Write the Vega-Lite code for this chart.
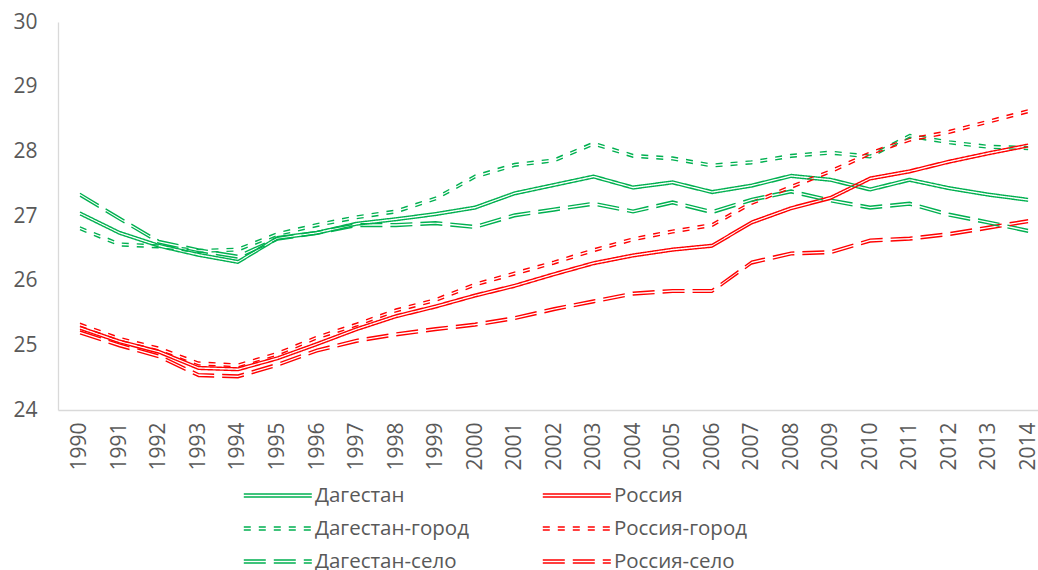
{
  "$schema": "https://vega.github.io/schema/vega-lite/v6.json",
  "width": 980,
  "height": 388,
  "autosize": {"type": "none"},
  "padding": {"left": 58, "top": 22, "right": 0, "bottom": 160},
  "background": "white",
  "config": {"view": {"stroke": null}, "font": "Open Sans"},
  "data": {"values": [
    {"year":1990,"series":"Дагестан","value":27.04},{"year":1991,"series":"Дагестан","value":26.74},{"year":1992,"series":"Дагестан","value":26.54},{"year":1993,"series":"Дагестан","value":26.4},{"year":1994,"series":"Дагестан","value":26.29},{"year":1995,"series":"Дагестан","value":26.66},{"year":1996,"series":"Дагестан","value":26.74},{"year":1997,"series":"Дагестан","value":26.88},{"year":1998,"series":"Дагестан","value":26.95},{"year":1999,"series":"Дагестан","value":27.03},{"year":2000,"series":"Дагестан","value":27.13},{"year":2001,"series":"Дагестан","value":27.35},{"year":2002,"series":"Дагестан","value":27.48},{"year":2003,"series":"Дагестан","value":27.61},{"year":2004,"series":"Дагестан","value":27.44},{"year":2005,"series":"Дагестан","value":27.52},{"year":2006,"series":"Дагестан","value":27.37},{"year":2007,"series":"Дагестан","value":27.47},{"year":2008,"series":"Дагестан","value":27.62},{"year":2009,"series":"Дагестан","value":27.56},{"year":2010,"series":"Дагестан","value":27.41},{"year":2011,"series":"Дагестан","value":27.56},{"year":2012,"series":"Дагестан","value":27.43},{"year":2013,"series":"Дагестан","value":27.33},{"year":2014,"series":"Дагестан","value":27.25},
    {"year":1990,"series":"Дагестан-город","value":26.81},{"year":1991,"series":"Дагестан-город","value":26.56},{"year":1992,"series":"Дагестан-город","value":26.53},{"year":1993,"series":"Дагестан-город","value":26.46},{"year":1994,"series":"Дагестан-город","value":26.48},{"year":1995,"series":"Дагестан-город","value":26.72},{"year":1996,"series":"Дагестан-город","value":26.86},{"year":1997,"series":"Дагестан-город","value":26.98},{"year":1998,"series":"Дагестан-город","value":27.07},{"year":1999,"series":"Дагестан-город","value":27.27},{"year":2000,"series":"Дагестан-город","value":27.61},{"year":2001,"series":"Дагестан-город","value":27.79},{"year":2002,"series":"Дагестан-город","value":27.86},{"year":2003,"series":"Дагестан-город","value":28.12},{"year":2004,"series":"Дагестан-город","value":27.93},{"year":2005,"series":"Дагестан-город","value":27.89},{"year":2006,"series":"Дагестан-город","value":27.78},{"year":2007,"series":"Дагестан-город","value":27.83},{"year":2008,"series":"Дагестан-город","value":27.93},{"year":2009,"series":"Дагестан-город","value":27.98},{"year":2010,"series":"Дагестан-город","value":27.92},{"year":2011,"series":"Дагестан-город","value":28.24},{"year":2012,"series":"Дагестан-город","value":28.14},{"year":2013,"series":"Дагестан-город","value":28.07},{"year":2014,"series":"Дагестан-город","value":28.05},
    {"year":1990,"series":"Дагестан-село","value":27.33},{"year":1991,"series":"Дагестан-село","value":26.96},{"year":1992,"series":"Дагестан-село","value":26.6},{"year":1993,"series":"Дагестан-село","value":26.47},{"year":1994,"series":"Дагестан-село","value":26.37},{"year":1995,"series":"Дагестан-село","value":26.65},{"year":1996,"series":"Дагестан-село","value":26.74},{"year":1997,"series":"Дагестан-село","value":26.86},{"year":1998,"series":"Дагестан-село","value":26.86},{"year":1999,"series":"Дагестан-село","value":26.89},{"year":2000,"series":"Дагестан-село","value":26.83},{"year":2001,"series":"Дагестан-село","value":27.01},{"year":2002,"series":"Дагестан-село","value":27.1},{"year":2003,"series":"Дагестан-село","value":27.19},{"year":2004,"series":"Дагестан-село","value":27.07},{"year":2005,"series":"Дагестан-село","value":27.21},{"year":2006,"series":"Дагестан-село","value":27.06},{"year":2007,"series":"Дагестан-село","value":27.25},{"year":2008,"series":"Дагестан-село","value":27.38},{"year":2009,"series":"Дагестан-село","value":27.24},{"year":2010,"series":"Дагестан-село","value":27.13},{"year":2011,"series":"Дагестан-село","value":27.19},{"year":2012,"series":"Дагестан-село","value":27.02},{"year":2013,"series":"Дагестан-село","value":26.9},{"year":2014,"series":"Дагестан-село","value":26.77},
    {"year":1990,"series":"Россия","value":25.27},{"year":1991,"series":"Россия","value":25.06},{"year":1992,"series":"Россия","value":24.9},{"year":1993,"series":"Россия","value":24.65},{"year":1994,"series":"Россия","value":24.63},{"year":1995,"series":"Россия","value":24.8},{"year":1996,"series":"Россия","value":25.02},{"year":1997,"series":"Россия","value":25.25},{"year":1998,"series":"Россия","value":25.45},{"year":1999,"series":"Россия","value":25.6},{"year":2000,"series":"Россия","value":25.77},{"year":2001,"series":"Россия","value":25.92},{"year":2002,"series":"Россия","value":26.1},{"year":2003,"series":"Россия","value":26.27},{"year":2004,"series":"Россия","value":26.39},{"year":2005,"series":"Россия","value":26.48},{"year":2006,"series":"Россия","value":26.54},{"year":2007,"series":"Россия","value":26.9},{"year":2008,"series":"Россия","value":27.12},{"year":2009,"series":"Россия","value":27.28},{"year":2010,"series":"Россия","value":27.58},{"year":2011,"series":"Россия","value":27.69},{"year":2012,"series":"Россия","value":27.84},{"year":2013,"series":"Россия","value":27.97},{"year":2014,"series":"Россия","value":28.09},
    {"year":1990,"series":"Россия-город","value":25.32},{"year":1991,"series":"Россия-город","value":25.1},{"year":1992,"series":"Россия-город","value":24.95},{"year":1993,"series":"Россия-город","value":24.72},{"year":1994,"series":"Россия-город","value":24.69},{"year":1995,"series":"Россия-город","value":24.87},{"year":1996,"series":"Россия-город","value":25.12},{"year":1997,"series":"Россия-город","value":25.32},{"year":1998,"series":"Россия-город","value":25.54},{"year":1999,"series":"Россия-город","value":25.7},{"year":2000,"series":"Россия-город","value":25.94},{"year":2001,"series":"Россия-город","value":26.11},{"year":2002,"series":"Россия-город","value":26.28},{"year":2003,"series":"Россия-город","value":26.47},{"year":2004,"series":"Россия-город","value":26.64},{"year":2005,"series":"Россия-город","value":26.76},{"year":2006,"series":"Россия-город","value":26.86},{"year":2007,"series":"Россия-город","value":27.2},{"year":2008,"series":"Россия-город","value":27.45},{"year":2009,"series":"Россия-город","value":27.69},{"year":2010,"series":"Россия-город","value":27.97},{"year":2011,"series":"Россия-город","value":28.18},{"year":2012,"series":"Россия-город","value":28.3},{"year":2013,"series":"Россия-город","value":28.46},{"year":2014,"series":"Россия-город","value":28.62},
    {"year":1990,"series":"Россия-село","value":25.2},{"year":1991,"series":"Россия-село","value":25.0},{"year":1992,"series":"Россия-село","value":24.83},{"year":1993,"series":"Россия-село","value":24.54},{"year":1994,"series":"Россия-село","value":24.52},{"year":1995,"series":"Россия-село","value":24.7},{"year":1996,"series":"Россия-село","value":24.92},{"year":1997,"series":"Россия-село","value":25.07},{"year":1998,"series":"Россия-село","value":25.17},{"year":1999,"series":"Россия-село","value":25.25},{"year":2000,"series":"Россия-село","value":25.32},{"year":2001,"series":"Россия-село","value":25.42},{"year":2002,"series":"Россия-село","value":25.56},{"year":2003,"series":"Россия-село","value":25.68},{"year":2004,"series":"Россия-село","value":25.8},{"year":2005,"series":"Россия-село","value":25.84},{"year":2006,"series":"Россия-село","value":25.84},{"year":2007,"series":"Россия-село","value":26.28},{"year":2008,"series":"Россия-село","value":26.42},{"year":2009,"series":"Россия-село","value":26.44},{"year":2010,"series":"Россия-село","value":26.62},{"year":2011,"series":"Россия-село","value":26.65},{"year":2012,"series":"Россия-село","value":26.72},{"year":2013,"series":"Россия-село","value":26.82},{"year":2014,"series":"Россия-село","value":26.92}
  ]},
  "encoding": {
    "x": {"field": "year", "type": "quantitative",
      "scale": {"domain": [1989.444, 2014.25], "nice": false, "zero": false},
      "axis": {"title": null, "values": [1990,1991,1992,1993,1994,1995,1996,1997,1998,1999,2000,2001,2002,2003,2004,2005,2006,2007,2008,2009,2010,2011,2012,2013,2014],
        "format": "d", "labelAngle": -90, "labelPadding": 12, "ticks": false, "grid": false,
        "labelFont": "Open Sans", "labelFontSize": 21, "labelColor": "#595959",
        "labelFlush": false, "labelOverlap": false, "domainColor": "#d9d9d9", "domainWidth": 1.3}},
    "y": {"field": "value", "type": "quantitative",
      "scale": {"domain": [24, 30], "nice": false, "zero": false},
      "axis": {"title": null, "values": [24,25,26,27,28,29,30], "ticks": false, "grid": false,
        "labelPadding": 21, "labelFont": "Open Sans", "labelFontSize": 21, "labelColor": "#595959",
        "domainColor": "#d9d9d9", "domainWidth": 1.3}},
    "color": {"field": "series", "type": "nominal",
      "scale": {"domain": ["Дагестан","Дагестан-город","Дагестан-село","Россия","Россия-город","Россия-село"],
        "range": ["#00b050","#00b050","#00b050","#ff0000","#ff0000","#ff0000"]},
      "legend": {"title": null, "orient": "none", "legendX": 185, "legendY": 463, "columns": 2,
        "symbolType": "M0,-0.15H7M0,0.15H7", "symbolSize": 377.6, "symbolStrokeWidth": 1.4, "symbolOffset": -9.71,
        "labelOffset": 60.6, "labelFont": "Open Sans", "labelFontSize": 20.5, "labelColor": "#595959", "labelLimit": 400,
        "rowPadding": 12, "columnPadding": 70, "padding": 0}},
    "strokeDash": {"field": "series", "type": "nominal",
      "scale": {"domain": ["Дагестан","Дагестан-город","Дагестан-село","Россия","Россия-город","Россия-село"],
        "range": [[1,0],[7,8],[22,8],[1,0],[7,8],[22,8]]},
      "legend": {"title": null, "orient": "none", "legendX": 185, "legendY": 463, "columns": 2,
        "symbolType": "M0,-0.15H7M0,0.15H7", "symbolSize": 377.6, "symbolStrokeWidth": 1.4, "symbolOffset": -9.71,
        "labelOffset": 60.6, "labelFont": "Open Sans", "labelFontSize": 20.5, "labelColor": "#595959", "labelLimit": 400,
        "rowPadding": 12, "columnPadding": 70, "padding": 0}}
  },
  "layer": [
    {"mark": {"type": "line", "strokeWidth": 1.4, "yOffset": -1.4}},
    {"mark": {"type": "line", "strokeWidth": 1.4, "yOffset": 1.4}}
  ]
}
